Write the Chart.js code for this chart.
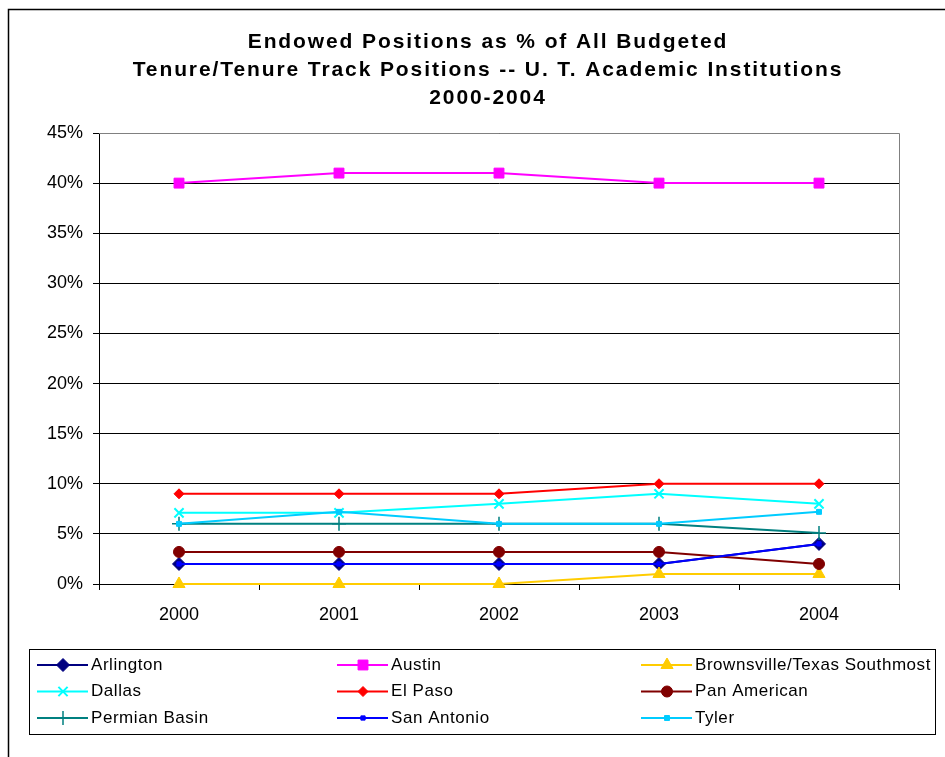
<!DOCTYPE html>
<html>
<head>
<meta charset="utf-8">
<script src="https://cdn.jsdelivr.net/npm/chart.js@4/dist/chart.umd.min.js"></script>
<style>
  html, body { margin: 0; padding: 0; background: #fff; }
  #c { display: block; }
</style>
</head>
<body>
<canvas id="c" width="945" height="757"></canvas>
<script>
// ---- Data (percent values) ----
const years = ['2000', '2001', '2002', '2003', '2004'];
const titleLines = [
  'Endowed Positions as % of All Budgeted',
  'Tenure/Tenure Track Positions -- U. T. Academic Institutions',
  '2000-2004'
];
const yTicks = [0, 5, 10, 15, 20, 25, 30, 35, 40, 45];

const arlington   = [2, 2, 2, 2, 4];
const austin      = [40, 41, 41, 40, 40];
const brownsville = [0, 0, 0, 1, 1];
const dallas      = [7.1, 7.1, 8, 9, 8];
const elPaso      = [9, 9, 9, 10, 10];
const panAmerican = [3.2, 3.2, 3.2, 3.2, 2];
const permian     = [6, 6, 6, 6, 5.1];
const sanAntonio  = [2, 2, 2, 2, 4];
const tyler       = [6, 7.2, 6, 6, 7.2];

const seriesNames = ['Arlington', 'Austin', 'Brownsville/Texas Southmost', 'Dallas', 'El Paso',
  'Pan American', 'Permian Basin', 'San Antonio', 'Tyler'];
const seriesValues = [arlington, austin, brownsville, dallas, elPaso, panAmerican, permian, sanAntonio, tyler];

// ---- Styles ----
const styles = [
  { color: '#000080', fill: '#000080', pointStyle: 'rectRot',  radius: 6.5, bw: 1 },
  { color: '#FF00FF', fill: '#FF00FF', pointStyle: 'rect',     radius: 7,   bw: 1 },
  { color: '#FFCC00', fill: '#FFCC00', pointStyle: 'triangle', radius: 7,   bw: 1 },
  { color: '#00FFFF', fill: '#00FFFF', pointStyle: 'crossRot', radius: 6.5, bw: 2 },
  { color: '#FF0000', fill: '#FF0000', pointStyle: 'rectRot',  radius: 5,   bw: 1 },
  { color: '#800000', fill: '#800000', pointStyle: 'circle',   radius: 5.5, bw: 1 },
  { color: '#008080', fill: '#008080', pointStyle: 'cross',    radius: 7,   bw: 1.5 },
  { color: '#0000FF', fill: '#0000FF', pointStyle: 'rect',     radius: 3,   bw: 1 },
  { color: '#00CCFF', fill: '#00CCFF', pointStyle: 'rect',     radius: 3.5, bw: 1 }
];

const FONT = '"Liberation Sans", Arial, sans-serif';

const datasets = seriesNames.map((name, i) => ({
  label: name,
  data: seriesValues[i],
  borderColor: styles[i].color,
  backgroundColor: styles[i].fill,
  borderWidth: 2,
  pointStyle: styles[i].pointStyle,
  pointRadius: styles[i].radius,
  pointHoverRadius: styles[i].radius,
  pointBorderWidth: styles[i].bw,
  pointBackgroundColor: styles[i].fill,
  pointBorderColor: styles[i].color,
  tension: 0,
  clip: false,
  order: seriesNames.length - i
}));

const extras = {
  id: 'extras',
  beforeDraw(chart) {
    const ctx = chart.ctx;
    ctx.save();
    ctx.fillStyle = '#fff';
    ctx.fillRect(0, 0, chart.width, chart.height);
    ctx.restore();
  },
  afterDraw(chart) {
    const ctx = chart.ctx;
    const a = chart.chartArea;
    ctx.save();
    // outer frame
    ctx.strokeStyle = '#000';
    ctx.lineWidth = 1.5;
    ctx.beginPath();
    ctx.moveTo(8.5, 770);
    ctx.lineTo(8.5, 9.5);
    ctx.lineTo(960, 9.5);
    ctx.stroke();
    // plot area top/right border (gray)
    ctx.strokeStyle = '#808080';
    ctx.lineWidth = 1;
    ctx.beginPath();
    ctx.moveTo(a.left, a.top + 0.5);
    ctx.lineTo(a.right + 0.5, a.top + 0.5);
    ctx.lineTo(a.right + 0.5, a.bottom);
    ctx.stroke();
    // title
    ctx.fillStyle = '#000';
    ctx.font = 'bold 21px ' + FONT;
    ctx.letterSpacing = '1.9px';
    ctx.textAlign = 'center';
    ctx.textBaseline = 'alphabetic';
    const tb = [48, 76, 104];
    titleLines.forEach((t, i) => ctx.fillText(t, 488, tb[i]));
    ctx.letterSpacing = '0px';
    // legend box
    ctx.strokeStyle = '#000';
    ctx.lineWidth = 1;
    ctx.strokeRect(29.5, 649.5, 906, 85);
    const colX = [37, 337, 641];
    chart.data.datasets.forEach((ds, i) => {
      const col = i % 3, row = Math.floor(i / 3);
      const x0 = colX[col];
      const y = 665 + row * 26.5;
      ctx.strokeStyle = ds.borderColor;
      ctx.lineWidth = 2;
      ctx.beginPath();
      ctx.moveTo(x0, y);
      ctx.lineTo(x0 + 51, y);
      ctx.stroke();
      ctx.fillStyle = ds.pointBackgroundColor;
      ctx.strokeStyle = ds.pointBorderColor;
      ctx.lineWidth = ds.pointBorderWidth;
      Chart.helpers.drawPoint(ctx, {
        pointStyle: ds.pointStyle, radius: ds.pointRadius, rotation: 0, borderWidth: ds.pointBorderWidth
      }, x0 + 26, y);
      ctx.fillStyle = '#000';
      ctx.font = '17px ' + FONT;
      ctx.letterSpacing = '0.55px';
      ctx.textAlign = 'left';
      ctx.textBaseline = 'middle';
      ctx.fillText(ds.label, x0 + 54, y);
      ctx.letterSpacing = '0px';
    });
    ctx.restore();
  }
};

new Chart(document.getElementById('c'), {
  type: 'line',
  data: { labels: years, datasets },
  options: {
    responsive: false,
    animation: false,
    devicePixelRatio: 1,
    layout: { padding: { left: 0, top: 133, right: 46, bottom: 0 } },
    plugins: {
      legend: { display: false },
      title: { display: false },
      tooltip: { enabled: false }
    },
    scales: {
      x: {
        type: 'category',
        offset: true,
        grid: { offset: true, drawOnChartArea: false, drawTicks: true, tickLength: 6, color: '#000' },
        border: { color: '#000', width: 1 },
        ticks: { color: '#000', font: { family: FONT, size: 18 }, padding: 14, maxRotation: 0 },
        afterFit(s) { s.height = 173; }
      },
      y: {
        min: 0, max: 45,
        afterBuildTicks(s) { s.ticks = yTicks.map(v => ({ value: v })); },
        grid: { color: '#000', tickLength: 6, lineWidth: 1 },
        border: { color: '#000', width: 1 },
        ticks: { color: '#000', font: { family: FONT, size: 18 }, padding: 10,
                 callback: v => v + '%' },
        afterFit(s) { s.width = 99; }
      }
    }
  },
  plugins: [extras]
});
</script>
</body>
</html>
